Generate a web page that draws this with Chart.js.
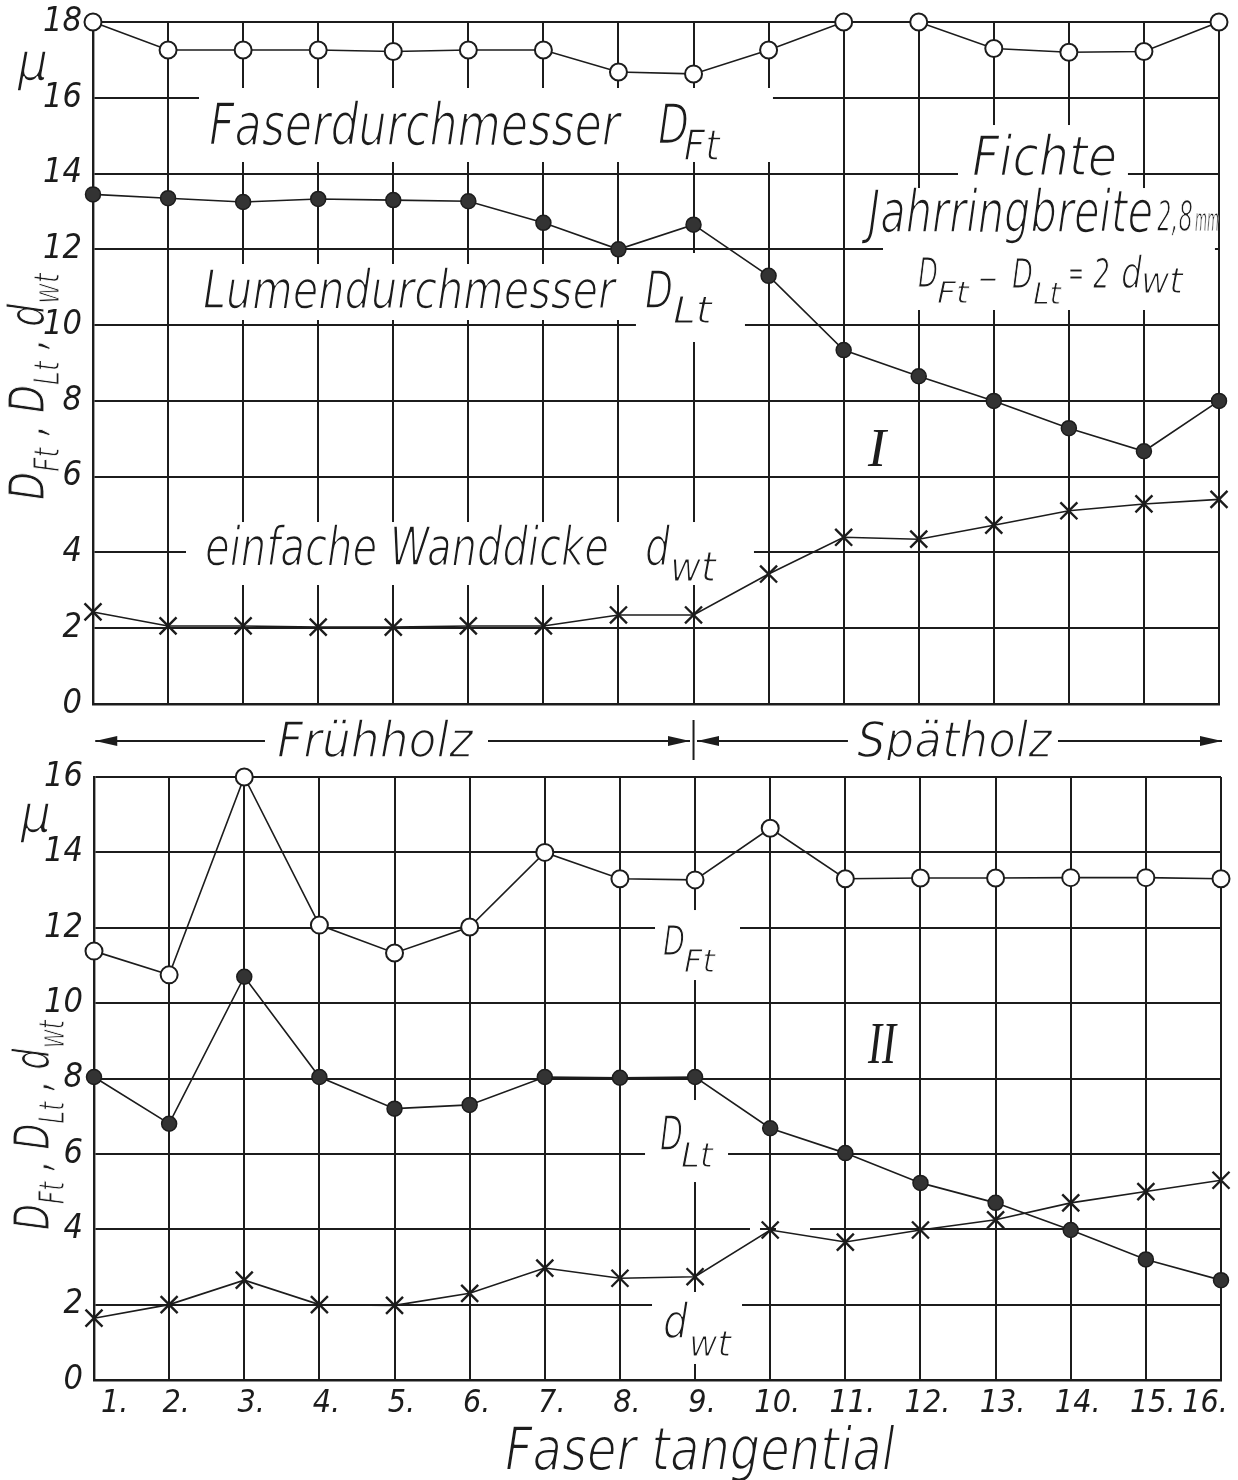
<!DOCTYPE html>
<html>
<head>
<meta charset="utf-8">
<script src="https://cdn.jsdelivr.net/npm/chart.js@4.4.1/dist/chart.umd.min.js"></script>
<style>
html,body{margin:0;padding:0;background:#fff;}
#wrap{position:relative;width:1238px;height:1480px;overflow:hidden;}
.box{position:absolute;left:0;width:1238px;}
</style>
</head>
<body>
<div id="wrap">
  <div class="box" style="top:0;height:760px"><canvas id="c1" width="1238" height="760"></canvas></div>
  <div class="box" style="top:760px;height:720px"><canvas id="c2" width="1238" height="720"></canvas></div>
</div>
<script>
// ---------- data ----------
const categories = ['1.','2.','3.','4.','5.','6.','7.','8.','9.','10.','11.','12.','13.','14.','15.','16.'];
// Panel I (top)
const topFaser = [18, 17.26, 17.26, 17.26, 17.22, 17.26, 17.26, 16.68, 16.63, 17.26, 18, 18, 17.3, 17.2, 17.22, 18];
const topLumen = [13.45, 13.35, 13.25, 13.33, 13.3, 13.27, 12.7, 12.0, 12.65, 11.3, 9.34, 8.65, 8.0, 7.28, 6.67, 8.0];
const topWand  = [2.43, 2.06, 2.06, 2.03, 2.03, 2.06, 2.06, 2.35, 2.35, 3.43, 4.4, 4.35, 4.72, 5.1, 5.28, 5.4];
// Panel II (bottom)
const botFaser = [11.38, 10.75, 16, 12.07, 11.33, 12.02, 14, 13.3, 13.27, 14.64, 13.3, 13.32, 13.32, 13.33, 13.33, 13.3];
const botLumen = [8.04, 6.8, 10.7, 8.04, 7.2, 7.3, 8.04, 8.02, 8.04, 6.68, 6.02, 5.23, 4.7, 3.98, 3.2, 2.65];
const botWand  = [1.64, 2.0, 2.65, 2.0, 1.98, 2.3, 2.97, 2.7, 2.74, 3.98, 3.66, 3.98, 4.25, 4.7, 5.0, 5.3];
const topYMax = 18;
const botYMax = 16;
const yStep = 2;
const phaseLabels = ['Frühholz', 'Spätholz'];
const xTitle = 'Faser tangential';
const unitLabel = 'μ';

// ---------- style ----------
const INK = '#1c1c1c';
const FONT = "'Liberation Sans Narrow','DejaVu Sans Condensed','Arial Narrow',sans-serif";
const SERIF = "'Liberation Serif','DejaVu Serif',serif";

function drawText(ctx, text, x, y, size, width, family, align) {
  ctx.save();
  ctx.font = 'italic normal ' + size + 'px ' + (family || FONT);
  ctx.fillStyle = INK;
  ctx.textBaseline = 'alphabetic';
  ctx.textAlign = 'left';
  const w = ctx.measureText(text).width;
  const sx = width ? width / w : 1;
  ctx.translate(x - (align === 'center' ? w * sx / 2 : 0), y);
  ctx.scale(sx, 1);
  ctx.fillText(text, 0, 0);
  if (!family || family === FONT) {
    // thin the strokes to imitate pen lettering
    ctx.strokeStyle = '#fff';
    ctx.lineJoin = 'round';
    ctx.lineWidth = Math.min(2, size * 0.03);
    ctx.strokeText(text, 0, 0);
  }
  ctx.restore();
}

// rich rotated axis title: D_Ft , D_Lt , d_wt
const yTitlePieces = [['D',0],['Ft',1],[' , ',0],['D',0],['Lt',1],[' , ',0],['d',0],['wt',1]];
function drawRichRot(ctx, x, yBottom, length, size) {
  ctx.save();
  ctx.translate(x, yBottom);
  ctx.rotate(-Math.PI / 2);
  let total = 0;
  const items = yTitlePieces.map(([t, sub]) => {
    const s = sub ? size * 0.7 : size;
    ctx.font = 'italic normal ' + s + 'px ' + FONT;
    const w = ctx.measureText(t).width;
    total += w;
    return {t, s, sub, w};
  });
  const sx = length / total;
  ctx.scale(sx, 1);
  ctx.fillStyle = INK;
  ctx.strokeStyle = '#fff';
  ctx.lineWidth = 1.1;
  let cx = 0;
  for (const it of items) {
    ctx.font = 'italic normal ' + it.s + 'px ' + FONT;
    ctx.fillText(it.t, cx, it.sub ? size * 0.3 : 0);
    ctx.strokeText(it.t, cx, it.sub ? size * 0.3 : 0);
    cx += it.w;
  }
  ctx.restore();
}

function arrowHead(ctx, tipX, y, dir) {
  ctx.beginPath();
  ctx.moveTo(tipX, y);
  ctx.lineTo(tipX - dir * 22, y - 5);
  ctx.lineTo(tipX - dir * 22, y + 5);
  ctx.closePath();
  ctx.fill();
}

function X(chart, v) { return chart.scales.x.getPixelForDecimal((v - 1) / (categories.length - 1)); }
function Y(chart, v) { return chart.scales.y.getPixelForValue(v); }

function annotPlugin(id, erase, labels, extra) {
  return {
    id: id,
    beforeDatasetsDraw(chart) {
      const ctx = chart.ctx;
      ctx.save();
      ctx.fillStyle = '#fff';
      for (const [x1, y1, x2, y2] of erase) {
        const px1 = X(chart, x1), px2 = X(chart, x2), py1 = Y(chart, y1), py2 = Y(chart, y2);
        ctx.fillRect(px1, py1, px2 - px1, py2 - py1);
      }
      ctx.restore();
      for (const l of labels) {
        drawText(ctx, l[0], X(chart, l[1]), Y(chart, l[2]), l[3], l[4], l[5] ? SERIF : FONT);
      }
    },
    afterDraw(chart) { if (extra) extra(chart); }
  };
}

// annotation text blocks (data coordinates: fiber number, value)
const topErase = [
  [2.412, 16.258, 10.058, 14.305],
  [12.523, 15.281, 14.787, 13.566],
  [11.524, 13.618, 15.946, 10.399],
  [2.399, 11.613, 8.127, 10.135],
  [8.233, 11.903, 9.685, 9.554],
  [2.239, 4.803, 9.805, 3.141]
];
const topLabels = [
  ['Faserdurchmesser', 2.545, 14.753, 58, 411, 0],
  ['D', 8.526, 14.806, 56, 31, 0],
  ['Ft', 8.87, 14.358, 42, 36, 0],
  ['Fichte', 12.709, 13.961, 56, 145, 0],
  ['Jahrringbreite', 11.324, 12.457, 58, 285, 0],
  ['2,8', 15.173, 12.48, 42, 36, 0],
  ['mm', 15.68, 12.48, 32, 24, 0],
  ['D', 11.99, 11.005, 40, 20, 0],
  ['Ft', 12.243, 10.583, 30, 32, 0],
  ['–', 12.789, 10.9, 40, 20, 0],
  ['D', 13.242, 10.979, 40, 21, 0],
  ['Lt', 13.522, 10.557, 30, 28, 0],
  ['=', 13.988, 11.06, 36, 16, 0],
  ['2', 14.321, 10.979, 40, 17, 0],
  ['d', 14.694, 10.979, 44, 21, 0],
  ['wt', 14.96, 10.847, 36, 42, 0],
  ['Lumendurchmesser', 2.465, 10.45, 54, 412, 0],
  ['D', 8.353, 10.45, 52, 28, 0],
  ['Lt', 8.726, 10.05, 38, 39, 0],
  ['I', 11.324, 6.281, 54, 0, 1],
  ['einfache Wanddicke', 2.492, 3.668, 54, 404, 0],
  ['d', 8.353, 3.668, 54, 25, 0],
  ['wt', 8.686, 3.246, 40, 46, 0]
];
const botErase = [
  [8.467, 12.47, 9.598, 10.613],
  [8.334, 7.429, 9.439, 5.253],
  [8.427, 2.335, 9.625, 0.425],
  [9.731, 4.166, 9.864, 3.847],
  [10.077, 4.166, 10.53, 3.847]
];
const botLabels = [
  ['D', 8.574, 11.276, 40, 22, 0],
  ['Ft', 8.853, 10.825, 32, 31, 0],
  ['II', 11.302, 8.411, 60, 28, 1],
  ['D', 8.534, 6.102, 48, 23, 0],
  ['Lt', 8.813, 5.651, 34, 32, 0],
  ['d', 8.574, 1.114, 48, 25, 0],
  ['wt', 8.919, 0.637, 36, 42, 0]
];

function topExtra(chart) {
  const ctx = chart.ctx;
  const b = chart.chartArea.bottom;
  const y = b + 37;
  ctx.save();
  ctx.strokeStyle = INK; ctx.fillStyle = INK; ctx.lineWidth = 2;
  const seg = (a, c) => { ctx.beginPath(); ctx.moveTo(X(chart, a), y); ctx.lineTo(X(chart, c), y); ctx.stroke(); };
  seg(1.03, 3.291); arrowHead(ctx, X(chart, 1.03), y, -1);
  seg(6.262, 8.953); arrowHead(ctx, X(chart, 8.953), y, 1);
  seg(9.046, 11.057); arrowHead(ctx, X(chart, 9.046), y, -1);
  seg(13.855, 16.04); arrowHead(ctx, X(chart, 16.04), y, 1);
  ctx.beginPath(); ctx.moveTo(X(chart, 9), b + 16); ctx.lineTo(X(chart, 9), b + 58); ctx.stroke();
  ctx.restore();
  drawText(ctx, phaseLabels[0], X(chart, 3.451), b + 53, 50, 196);
  drawText(ctx, phaseLabels[1], X(chart, 11.177), b + 53, 50, 195);
  drawRichRot(ctx, 44, 500, 227, 50);
  drawText(ctx, unitLabel, 33, 80, 54, 0, FONT, 'center');
}
function botExtra(chart) {
  const ctx = chart.ctx;
  drawText(ctx, xTitle, X(chart, 6.47), chart.chartArea.bottom + 90, 60, 390);
  drawRichRot(ctx, 49, 470, 210, 50);
  drawText(ctx, unitLabel, 36, 72, 54, 0, FONT, 'center');
}

function seriesSets(faser, lumen, wand) {
  const base = { borderColor: INK, borderWidth: 1.6, tension: 0, clip: false, fill: false };
  return [
    Object.assign({}, base, { label: 'D_Ft', data: faser, pointStyle: 'circle', pointRadius: 8.5, pointBackgroundColor: '#fff', pointBorderColor: INK, pointBorderWidth: 2 }),
    Object.assign({}, base, { label: 'D_Lt', data: lumen, pointStyle: 'circle', pointRadius: 7.5, pointBackgroundColor: '#333', pointBorderColor: INK, pointBorderWidth: 1.5 }),
    Object.assign({}, base, { label: 'd_wt', data: wand, pointStyle: 'crossRot', pointRadius: 12, pointBorderColor: INK, pointBorderWidth: 2.4 })
  ];
}

function zeroPad(s) { s.paddingLeft = 0; s.paddingRight = 0; s.paddingTop = 0; s.paddingBottom = 0; }

function makeConfig(opts) {
  return {
    type: 'line',
    data: { labels: categories, datasets: seriesSets(opts.faser, opts.lumen, opts.wand) },
    options: {
      responsive: false,
      animation: false,
      events: [],
      layout: { padding: { left: 0, right: opts.padRight, top: opts.padTop, bottom: 0 } },
      plugins: { legend: { display: false }, tooltip: { enabled: false }, title: { display: false } },
      scales: {
        x: {
          type: 'category',
          offset: false,
          grid: { color: INK, lineWidth: 2, drawTicks: false, offset: false },
          border: { display: true, color: INK, width: 2.4 },
          ticks: { display: opts.showX, color: INK, padding: 4, maxRotation: 0, autoSkip: false, align: 'inner',
                   labelOffset: 7, font: { family: FONT, size: 32, style: 'italic' } },
          afterFit: (s) => { s.height = opts.xHeight; zeroPad(s); }
        },
        y: {
          min: 0, max: opts.yMax,
          grid: { color: INK, lineWidth: 2, drawTicks: false },
          border: { display: true, color: INK, width: 2.4 },
          ticks: { stepSize: yStep, color: INK, padding: 11,
                   font: { family: FONT, size: 34, style: 'italic' } },
          afterFit: (s) => { s.width = opts.yWidth; zeroPad(s); }
        }
      }
    },
    plugins: [opts.plugin]
  };
}

new Chart(document.getElementById('c1'), makeConfig({
  faser: topFaser, lumen: topLumen, wand: topWand, yMax: topYMax,
  padRight: 19, padTop: 22, xHeight: 56, yWidth: 93, showX: false,
  plugin: annotPlugin('annotTop', topErase, topLabels, topExtra)
}));
new Chart(document.getElementById('c2'), makeConfig({
  faser: botFaser, lumen: botLumen, wand: botWand, yMax: botYMax,
  padRight: 17, padTop: 17, xHeight: 100, yWidth: 94, showX: true,
  plugin: annotPlugin('annotBot', botErase, botLabels, botExtra)
}));
</script>
</body>
</html>
